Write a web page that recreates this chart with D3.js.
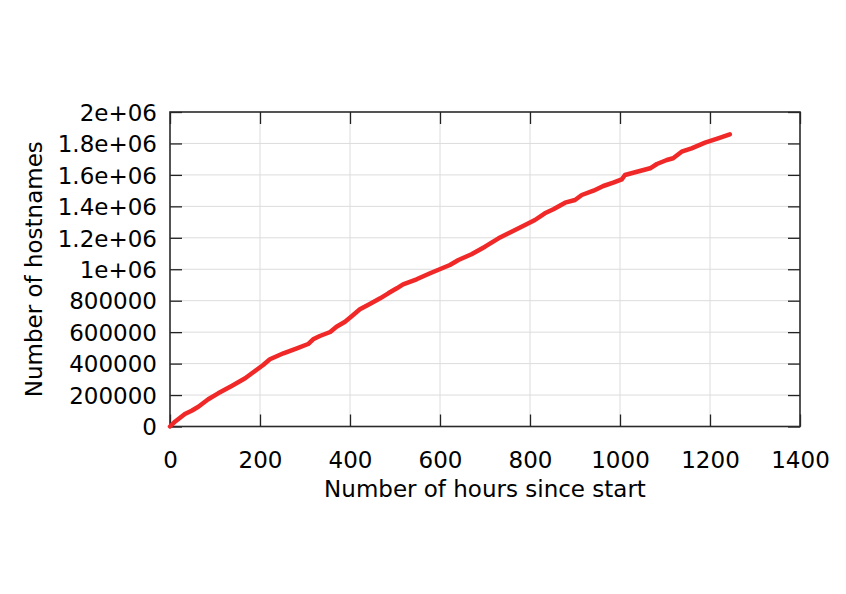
<!DOCTYPE html>
<html>
<head>
<meta charset="utf-8">
<script src="https://cdn.jsdelivr.net/npm/d3@7"></script>
<style>
  html, body { margin: 0; padding: 0; background: #fff; }
  svg { display: block; }
  text { font-family: "DejaVu Sans", sans-serif; fill: #000; }
</style>
</head>
<body>
<script>
// Data
const hours = [0, 11, 33, 48, 63, 85, 107, 137, 167, 182, 207, 222, 252, 282, 307, 318, 333, 356, 370, 389,
  407, 422, 444, 467, 485, 504, 518, 548, 578, 622, 641, 670, 700, 730, 759, 789, 811, 833, 852, 878,
  900, 915, 941, 963, 985, 1004, 1011, 1044, 1067, 1082, 1104, 1118, 1137, 1159, 1189, 1218, 1244];
const hostnames = [0, 30500, 79500, 100500, 125900, 173000, 211100, 257600, 306500, 338300, 391100, 427400,
  465500, 497300, 524600, 554500, 575500, 600900, 634700, 666400, 709100, 745300, 779000, 815300, 847100,
  878900, 904300, 936100, 974300, 1027100, 1058800, 1095100, 1143400, 1196800, 1238800, 1281400, 1313200,
  1355800, 1381200, 1423200, 1440400, 1472200, 1499500, 1529400, 1550400, 1572000, 1599400, 1624800,
  1642000, 1669300, 1694800, 1705600, 1747500, 1769100, 1804800, 1832700, 1858200];
const xTicks = [0, 200, 400, 600, 800, 1000, 1200, 1400];
const yTicks = [0, 200000, 400000, 600000, 800000, 1000000, 1200000, 1400000, 1600000, 1800000, 2000000];
const yTickLabels = ["0", "200000", "400000", "600000", "800000", "1e+06", "1.2e+06", "1.4e+06", "1.6e+06", "1.8e+06", "2e+06"];
const xLabel = "Number of hours since start";
const yLabel = "Number of hostnames";

(function () {
const W = 846, H = 594;
const mLeft = 170, mRight = 800, mTop = 112, mBottom = 426.5;

const svg = d3.select("body").append("svg").attr("width", W).attr("height", H);

const x = d3.scaleLinear().domain([0, 1400]).range([mLeft, mRight]);
const y = d3.scaleLinear().domain([0, 2000000]).range([mBottom, mTop]);

// grid lines
const grid = svg.append("g");
grid.selectAll(".gx").data(xTicks.slice(1, -1)).join("line")
  .attr("x1", d => x(d)).attr("x2", d => x(d)).attr("y1", mTop).attr("y2", mBottom)
  .attr("stroke", "#dcdcdc").attr("stroke-width", 1);
grid.selectAll(".gy").data(yTicks.slice(1, -1)).join("line")
  .attr("x1", mLeft).attr("x2", mRight).attr("y1", d => y(d)).attr("y2", d => y(d))
  .attr("stroke", "#dcdcdc").attr("stroke-width", 1);

// axes with inward ticks, mirrored
const tickLen = 12;
const fmtY = d => yTickLabels[yTicks.indexOf(d)];

const gx = svg.append("g").attr("transform", `translate(0,${mBottom})`)
  .call(d3.axisBottom(x).tickValues(xTicks).tickSize(-tickLen).tickFormat(d3.format("d")));
const gxTop = svg.append("g").attr("transform", `translate(0,${mTop})`)
  .call(d3.axisTop(x).tickValues(xTicks).tickSize(-tickLen).tickFormat(""));
const gy = svg.append("g").attr("transform", `translate(${mLeft},0)`)
  .call(d3.axisLeft(y).tickValues(yTicks).tickSize(-tickLen).tickPadding(13).tickFormat(fmtY));
const gyRight = svg.append("g").attr("transform", `translate(${mRight},0)`)
  .call(d3.axisRight(y).tickValues(yTicks).tickSize(-tickLen).tickFormat(""));

[gx, gxTop, gy, gyRight].forEach(g => {
  g.select(".domain").remove();
  g.selectAll(".tick line").attr("stroke", "#222").attr("stroke-width", 1.3);
  g.selectAll(".tick text").style("font-family", "DejaVu Sans, sans-serif").style("font-size", "23px").attr("fill", "#000");
});
gx.selectAll(".tick text").attr("dy", "0.71em").attr("y", 25);
gy.selectAll(".tick text").attr("dy", "0.36em");

// frame
svg.append("rect").attr("x", mLeft).attr("y", mTop).attr("width", mRight - mLeft).attr("height", mBottom - mTop)
  .attr("fill", "none").attr("stroke", "#2a2a2a").attr("stroke-width", 1.6);

// data line
const line = d3.line().x((d, i) => x(hours[i])).y((d, i) => y(hostnames[i]));
svg.append("path").datum(hostnames).attr("d", line)
  .attr("fill", "none").attr("stroke", "#f02828").attr("stroke-width", 4.5)
  .attr("stroke-linejoin", "round").attr("stroke-linecap", "round");

// axis titles
svg.append("text").attr("x", (mLeft + mRight) / 2).attr("y", 497).attr("text-anchor", "middle")
  .style("font-size", "23px").text(xLabel);
svg.append("text").attr("transform", `translate(42,${(mTop + mBottom) / 2}) rotate(-90)`)
  .attr("text-anchor", "middle").style("font-size", "23px").text(yLabel);
})();
</script>
</body>
</html>
